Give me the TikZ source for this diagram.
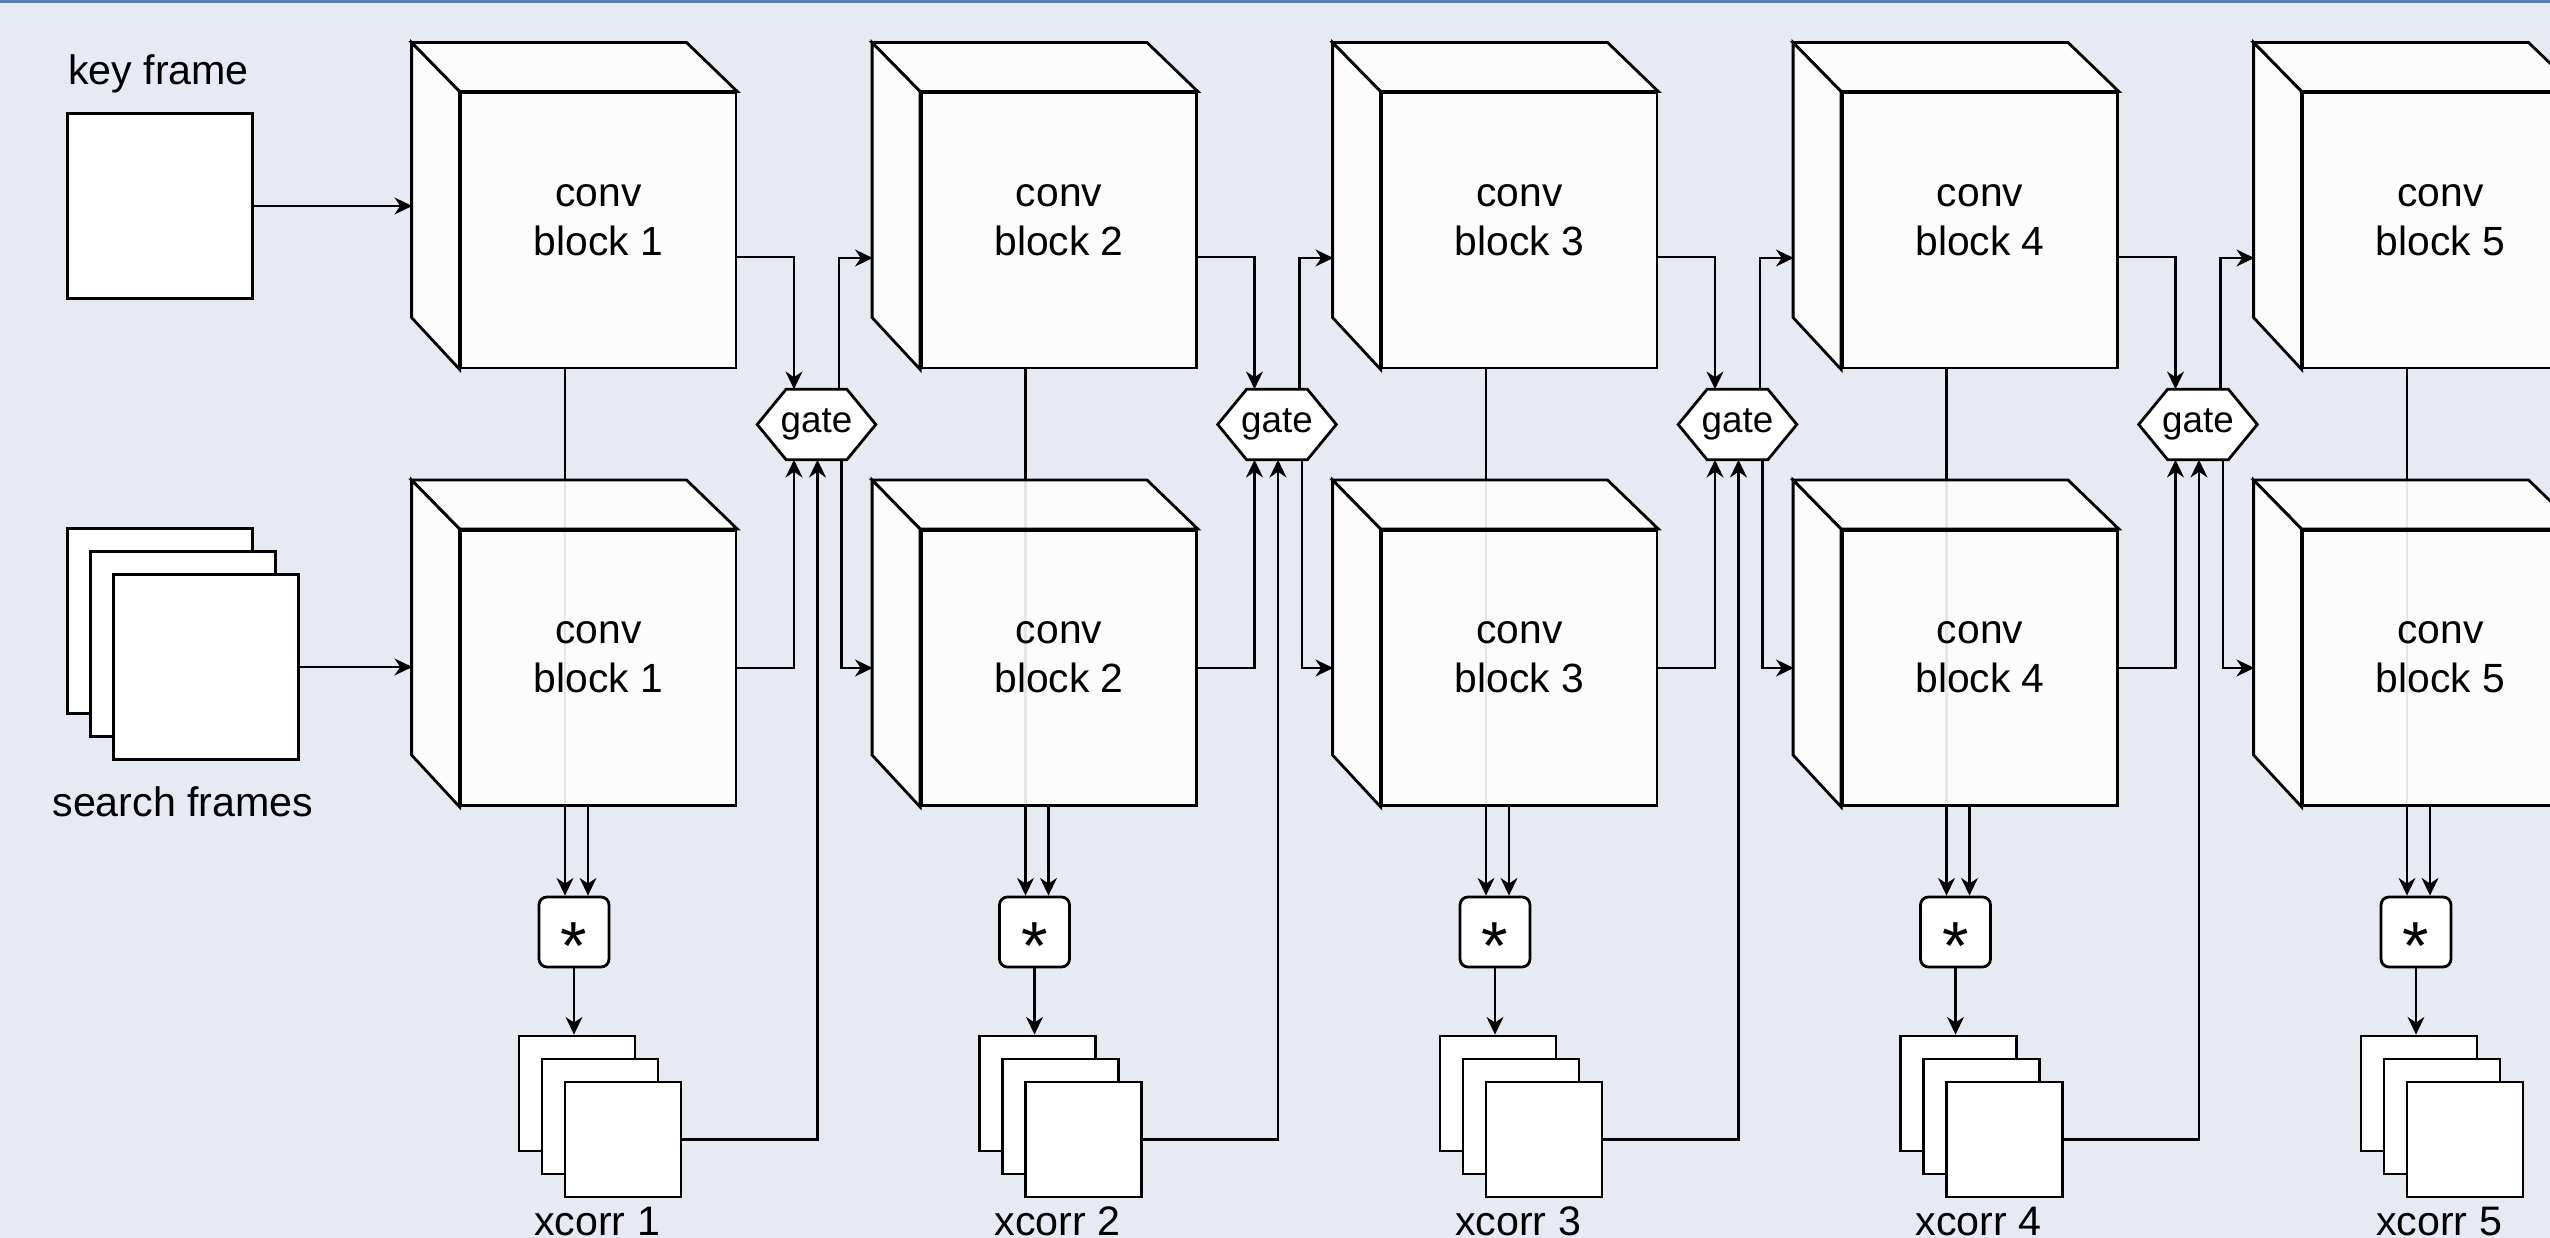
\documentclass[tikz,border=0pt]{standalone}
\usepackage{fontspec}
\setmainfont{Liberation Sans}
\usetikzlibrary{arrows.meta,calc}
\definecolor{bgc}{RGB}{230,234,242}
\definecolor{topbar}{RGB}{92,125,175}
\newcommand{\starsym}{{\fontsize{17pt}{17pt}\selectfont\raisebox{-0.55em}[0pt][0pt]{*}}}
\tikzset{
  shapeline/.style={draw=black, line width=0.7pt, line join=miter},
  cubeface/.style={shapeline, fill=white, fill opacity=0.9},
  frontface/.style={cubeface, rectangle, minimum width=68.75pt, minimum height=68.75pt, inner sep=0pt},
  cubeouter/.style={rectangle, minimum width=80.75pt, minimum height=81pt, inner sep=0pt},
  cubetext/.style={align=center, inner sep=0pt, text=black, font=\fontsize{10.2pt}{12.25pt}\selectfont},
  frame/.style={shapeline, fill=white, rectangle, minimum width=46.25pt, minimum height=46.25pt, inner sep=0pt},
  xframe/.style={shapeline, fill=white, rectangle, minimum width=29pt, minimum height=28.75pt, inner sep=0pt},
  starbox/.style={shapeline, fill=white, rounded corners=2pt, minimum width=17.5pt, minimum height=17.5pt, inner sep=0pt},
  gatebox/.style={rectangle, minimum width=29.25pt, minimum height=17.25pt, inner sep=0pt},
  gatetext/.style={inner sep=0pt, font=\fontsize{9.2pt}{10pt}\selectfont},
  lbl/.style={font=\fontsize{10.3pt}{12pt}\selectfont, anchor=base, inner sep=0pt},
  conn/.style={draw=black, line width=0.6pt},
  arr/.style={conn, -{Stealth[length=4.4pt, width=4.2pt, inset=1.4pt]}},
}
% cube: #1 name, #2 x of front centre, #3 y of front centre, #4 text
\newcommand{\mycube}[4]{%
  \node[cubeouter] (#1o) at ({#2-24},{#3-24.5}) {};
  \node[frontface] (#1) at (#2,#3) {};
  \filldraw[cubeface] (#1.north west) -- ++(-48,-49) -- ++(275,0) -- (#1.north east) -- cycle;
  \filldraw[cubeface] (#1.north west) -- ++(-48,-49) -- ++(0,275) -- (#1.south west) -- cycle;
  \node[cubetext] (#1t) at (#2,{#3-10.5}) {#4};
}
% gate: #1 name, #2 x, #3 y
\newcommand{\mygate}[3]{%
  \node[gatebox] (#1) at (#2,#3) {};
  \filldraw[shapeline, fill=white] (#1.west) -- ($(#1.north west)+(29,0)$) -- ($(#1.north east)+(-29,0)$)
     -- (#1.east) -- ($(#1.south east)+(-29,0)$) -- ($(#1.south west)+(29,0)$) -- cycle;
  \node[gatetext] (#1t) at (#1) {gate};
}
\begin{document}
\begin{tikzpicture}[x=0.25pt, y=-0.25pt]
\useasboundingbox (0,0) rectangle (2550,1238);
\clip (0,0) rectangle (2550,1238);
\fill[bgc] (0,0) rectangle (2550,1238);
\fill[topbar] (0,0) rectangle (2550,3.5);

% input frames
\node[frame] (kf) at (160,206) {};
\node[lbl] (kfl) at (158.5,85) {key frame};
\node[frame] (sfa) at (160,621) {};
\node[frame] (sfb) at (183,644) {};
\node[frame] (sfc) at (206,667) {};
\node[lbl] (sfl) at (183,817) {search frames};

% columns
\foreach \cc in {1,...,5}{
  \pgfmathsetmacro{\cx}{598.5+(\cc-1)*460.5}
  \mycube{T\cc}{\cx}{230.5}{conv\\block \cc}
  \node[starbox] (S\cc) at ({\cx-24.5},932) {\starsym};
  \coordinate (Sl\cc) at ($(S\cc.north)+(-9,0)$);
  \coordinate (Sr\cc) at ($(S\cc.north)+(14,0)$);
  \draw[arr] (Sl\cc |- T\cc.south) -- (Sl\cc);
  \mycube{B\cc}{\cx}{668}{conv\\block \cc}
  \draw[arr] (Sr\cc |- B\cc.south) -- (Sr\cc);
  \node[xframe] (Xa\cc) at ({\cx-21.5},1093.5) {};
  \node[xframe] (Xb\cc) at ({\cx+1.5},1116.5) {};
  \node[xframe] (Xc\cc) at ({\cx+24.5},1139.5) {};
  \draw[arr] (S\cc.south) -- (S\cc.south |- Xa\cc.north);
  \node[lbl] (L\cc) at ({\cx-1.5},1236) {xcorr \cc};
}

\draw[arr] (kf.east) -- (kf.east -| T1o.west);
\draw[arr] (sfc.east) -- (sfc.east -| B1o.west);

% gates
\foreach \cc in {1,...,4}{
  \pgfmathsetmacro{\gx}{816.5+(\cc-1)*460.5}
  \pgfmathtruncatemacro{\nn}{\cc+1}
  \mygate{G\cc}{\gx}{424.5}
  \coordinate (Gtl\cc) at ($(G\cc.north)+(-22.5,0)$);
  \coordinate (Gtr\cc) at ($(G\cc.north)+(22.5,0)$);
  \coordinate (Gbl\cc) at ($(G\cc.south)+(-22.5,0)$);
  \coordinate (Gbm\cc) at ($(G\cc.south)+(1,0)$);
  \coordinate (Gbr\cc) at ($(G\cc.south)+(25,0)$);
  \coordinate (To\cc) at ($(T\cc.east)+(0,26.5)$);
  \coordinate (Ti\nn) at ($(T\nn o.west)+(0,52)$);
  \coordinate (Bi\nn) at (B\nn o.west |- B\nn.east);
  \draw[arr] (To\cc) -| (Gtl\cc);
  \draw[arr] (B\cc.east) -| (Gbl\cc);
  \draw[arr] (Xc\cc.east) -| (Gbm\cc);
  \draw[arr] (Gtr\cc) |- (Ti\nn);
  \draw[arr] (Gbr\cc) |- (Bi\nn);
}
\end{tikzpicture}
\end{document}
